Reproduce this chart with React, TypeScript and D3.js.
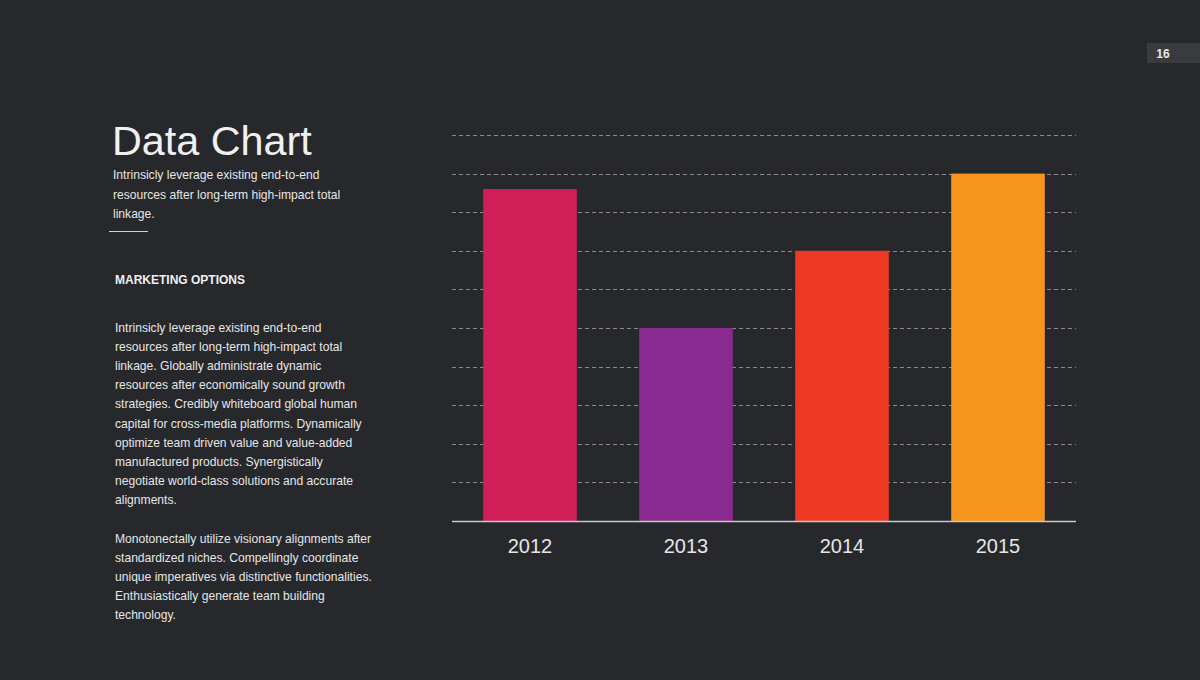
import React from "react";
import * as d3 from "d3";

const years = ["2012", "2013", "2014", "2015"];
const values = [8.6, 5, 7, 9];
const colors = ["#d21f5a", "#8a2a91", "#ee3a24", "#f7941e"];
const gridTicks = [1, 2, 3, 4, 5, 6, 7, 8, 9, 10];

const subtitleLines = [
  "Intrinsicly leverage existing end-to-end",
  "resources after long-term high-impact total",
  "linkage.",
];
const para1 = [
  "Intrinsicly leverage existing end-to-end",
  "resources after long-term high-impact total",
  "linkage. Globally administrate dynamic",
  "resources after economically sound growth",
  "strategies. Credibly whiteboard global human",
  "capital for cross-media platforms. Dynamically",
  "optimize team driven value and value-added",
  "manufactured products. Synergistically",
  "negotiate world-class solutions and accurate",
  "alignments.",
];
const para2 = [
  "Monotonectally utilize visionary alignments after",
  "standardized niches. Compellingly coordinate",
  "unique imperatives via distinctive functionalities.",
  "Enthusiastically generate team building",
  "technology.",
];

const W = 1200;
const H = 680;
const FONT = "'Liberation Sans', Arial, Helvetica, sans-serif";

export default function App() {
  const x = d3.scaleBand<string>().domain(years).range([452, 1076]).paddingInner(0.4).paddingOuter(0.2);
  const y = d3.scaleLinear().domain([0, 10]).range([521, 135]);

  return (
    <div style={{ position: "fixed", left: 0, top: 0, width: W, height: H }}>
      <svg width={W} height={H} style={{ display: "block", fontFamily: FONT }}>
        <rect width={W} height={H} fill="#27282c" />
        {/* page number */}
        <rect x={1147} y={43} width={53} height={20} fill="#3a3b3f" />
        <text x={1163} y={57.5} fill="#e8e8e8" fontSize={12} fontWeight="bold" textAnchor="middle">16</text>

        {/* title */}
        <text x={112} y={155} fill="#f0f0f0" fontSize={41.3}>Data Chart</text>
        {subtitleLines.map((t, i) => (
          <text key={i} x={113} y={179 + i * 19.5} fill="#e6e6e6" fontSize={12.1}>{t}</text>
        ))}
        <line x1={109} x2={148} y1={231.5} y2={231.5} stroke="#d0d0d0" strokeWidth={1} />

        <text x={115} y={283.5} fill="#eeeeee" fontSize={12} fontWeight="bold">MARKETING OPTIONS</text>
        {para1.map((t, i) => (
          <text key={i} x={115} y={331.5 + i * 19.2} fill="#e6e6e6" fontSize={12.1}>{t}</text>
        ))}
        {para2.map((t, i) => (
          <text key={i} x={115} y={542.5 + i * 19.2} fill="#e6e6e6" fontSize={12.1}>{t}</text>
        ))}

        {/* gridlines */}
        {gridTicks.map((t) => (
          <line key={t} x1={452} x2={1076} y1={Math.round(y(t)) + 0.5} y2={Math.round(y(t)) + 0.5}
            stroke="#8a8a8c" strokeWidth={1} strokeDasharray="4 3" />
        ))}

        {/* bars */}
        {years.map((yr, i) => (
          <rect key={yr} x={x(yr)} y={y(values[i])} width={x.bandwidth()} height={y(0) - y(values[i])} fill={colors[i]} />
        ))}

        {/* baseline */}
        <line x1={452} x2={1076} y1={521.5} y2={521.5} stroke="#c8c8c8" strokeWidth={1.5} />

        {/* year labels */}
        {years.map((yr) => (
          <text key={yr} x={(x(yr) as number) + x.bandwidth() / 2} y={553} fill="#e6e6e6" fontSize={20} textAnchor="middle">{yr}</text>
        ))}
      </svg>
    </div>
  );
}
